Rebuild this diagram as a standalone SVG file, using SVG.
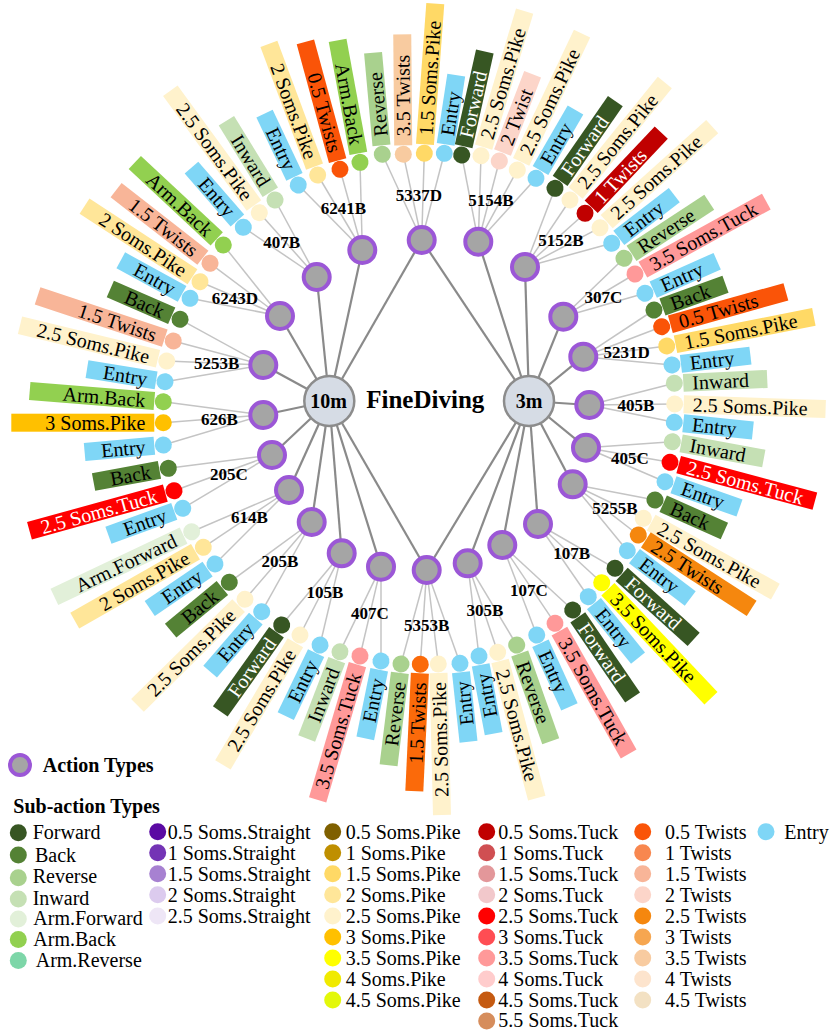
<svg xmlns="http://www.w3.org/2000/svg" width="830" height="1031" viewBox="0 0 830 1031">
<style>
.hl{stroke:#8a8a8a;stroke-width:2.2}
.ln{stroke:#c4c4c4;stroke-width:1.5}
.act circle{fill:#a5a5a5;stroke:#9b57d6;stroke-width:4}
.act text{font-family:"Liberation Serif",serif;font-weight:bold;font-size:17px;text-anchor:middle;fill:#000}
.hub circle{fill:#d6dce5;stroke:#8c8c8c;stroke-width:2.5}
.hub text{font-family:"Liberation Serif",serif;font-weight:bold;font-size:20px;text-anchor:middle}
.title{font-family:"Liberation Serif",serif;font-weight:bold;font-size:25px;text-anchor:middle}
.sub text{font-family:"Liberation Serif",serif;font-size:20px;fill:#000}
.L text{text-anchor:end}
.lg text{font-family:"Liberation Serif",serif;font-size:20px;fill:#000}
.lgh{font-family:"Liberation Serif",serif;font-size:20px;font-weight:bold}
.fw rect,.fw circle,circle.fw{fill:#375623}
.fw text,.w1 text,.t25 text{fill:#fff}
.bk rect,.bk circle,circle.bk{fill:#548235}
.rv rect,.rv circle,circle.rv{fill:#a9d18e}
.iw rect,.iw circle,circle.iw{fill:#c5e0b4}
.af rect,.af circle,circle.af{fill:#e2f0d9}
.ab rect,.ab circle,circle.ab{fill:#92d050}
circle.ar{fill:#7dd6a8}
.en rect,.en circle,circle.en{fill:#7fd6f6}
.p15 rect,.p15 circle,circle.p15{fill:#ffd966}
.p2 rect,.p2 circle,circle.p2{fill:#ffe699}
.p25 rect,.p25 circle,circle.p25{fill:#fff2cc}
.p3 rect,.p3 circle,circle.p3{fill:#ffc000}
.p35 rect,.p35 circle,circle.p35{fill:#ffff00}
.t25 rect,.t25 circle,circle.t25{fill:#ff0000}
.t35 rect,.t35 circle,circle.t35{fill:#ff9999}
.w05 rect,.w05 circle,circle.w05{fill:#fa5408}
.w1 rect,.w1 circle,circle.w1{fill:#c00000}
.w15 rect,.w15 circle,circle.w15{fill:#f8b598}
.w15o rect,.w15o circle{fill:#fb6a0a}
.w2 rect,.w2 circle,circle.w2{fill:#fcd5c9}
.w25 rect,.w25 circle,circle.w25{fill:#f5870e}
.w35 rect,.w35 circle,circle.w35{fill:#f8cba0}
circle.s05{fill:#5b0aa3}circle.s1{fill:#7434b5}circle.s15{fill:#a781d1}circle.s2{fill:#dccbee}circle.s25{fill:#eee6f6}
circle.pk05{fill:#7f6000}circle.pk1{fill:#bf8f00}circle.pk4{fill:#f0ea00}circle.pk45{fill:#e3f80a}
circle.tk05{fill:#c00000}circle.tk1{fill:#d04f52}circle.tk15{fill:#e3979a}circle.tk2{fill:#f2c8cb}circle.tk3{fill:#ff4d53}circle.tk4{fill:#ffcccc}circle.tk45{fill:#c55a11}circle.tk55{fill:#d68d5c}
circle.tw1{fill:#f8874f}circle.tw3{fill:#f6a650}circle.tw4{fill:#fde4cd}circle.tw45{fill:#f3e1c3}
</style>
<rect width="830" height="1031" fill="#fff"/>
<g id="connectors" fill="none">
<g class="hl">
<line x1="329.3" y1="401" x2="362.3" y2="250"/><line x1="329.3" y1="401" x2="316.7" y2="277"/><line x1="329.3" y1="401" x2="280" y2="316"/><line x1="329.3" y1="401" x2="263.3" y2="365"/><line x1="329.3" y1="401" x2="263.3" y2="415"/><line x1="329.3" y1="401" x2="272" y2="455"/><line x1="329.3" y1="401" x2="289" y2="490"/><line x1="329.3" y1="401" x2="311.7" y2="522"/><line x1="329.3" y1="401" x2="341.7" y2="553.3"/><line x1="329.3" y1="401" x2="381" y2="566.7"/><line x1="329.3" y1="401" x2="426.7" y2="570"/><line x1="329.3" y1="401" x2="421.7" y2="240"/>
<line x1="529" y1="401" x2="421.7" y2="240"/><line x1="529" y1="401" x2="478.3" y2="241.7"/><line x1="529" y1="401" x2="525" y2="267"/><line x1="529" y1="401" x2="563.3" y2="316.7"/><line x1="529" y1="401" x2="583.3" y2="356.7"/><line x1="529" y1="401" x2="589.3" y2="405"/><line x1="529" y1="401" x2="586" y2="447.7"/><line x1="529" y1="401" x2="572.7" y2="484.3"/><line x1="529" y1="401" x2="538" y2="524"/><line x1="529" y1="401" x2="502.3" y2="545"/><line x1="529" y1="401" x2="467.7" y2="563.3"/><line x1="529" y1="401" x2="426.7" y2="570"/>
</g>
<g class="ln">
<line x1="478.3" y1="241.7" x2="461.7" y2="155"/><line x1="478.3" y1="241.7" x2="481" y2="155.7"/><line x1="478.3" y1="241.7" x2="499.3" y2="161"/><line x1="478.3" y1="241.7" x2="517.3" y2="170"/><line x1="478.3" y1="241.7" x2="536" y2="178.3"/>
<line x1="525" y1="267" x2="555" y2="188.3"/><line x1="525" y1="267" x2="570" y2="200"/><line x1="525" y1="267" x2="585" y2="213.3"/><line x1="525" y1="267" x2="600" y2="227.7"/><line x1="525" y1="267" x2="611.7" y2="243.3"/>
<line x1="563.3" y1="316.7" x2="624" y2="258.3"/><line x1="563.3" y1="316.7" x2="635" y2="274"/><line x1="563.3" y1="316.7" x2="645" y2="293.3"/>
<line x1="583.3" y1="356.7" x2="654" y2="310"/><line x1="583.3" y1="356.7" x2="661.7" y2="326.7"/><line x1="583.3" y1="356.7" x2="666.7" y2="346"/><line x1="583.3" y1="356.7" x2="672" y2="365"/>
<line x1="589.3" y1="405" x2="674.3" y2="383.3"/><line x1="589.3" y1="405" x2="674.7" y2="404"/><line x1="589.3" y1="405" x2="674.3" y2="422.3"/>
<line x1="586" y1="447.7" x2="672.3" y2="441.7"/><line x1="586" y1="447.7" x2="670" y2="462.3"/><line x1="586" y1="447.7" x2="665" y2="481.7"/>
<line x1="572.7" y1="484.3" x2="655" y2="500"/><line x1="572.7" y1="484.3" x2="643.3" y2="518.3"/><line x1="572.7" y1="484.3" x2="638.3" y2="535"/><line x1="572.7" y1="484.3" x2="627.3" y2="550.7"/>
<line x1="538" y1="524" x2="615" y2="568.3"/><line x1="538" y1="524" x2="601.7" y2="582.7"/><line x1="538" y1="524" x2="588.3" y2="596.7"/>
<line x1="502.3" y1="545" x2="572.7" y2="610"/><line x1="502.3" y1="545" x2="555" y2="623.3"/><line x1="502.3" y1="545" x2="536.7" y2="635"/>
<line x1="467.7" y1="563.3" x2="516.7" y2="645"/><line x1="467.7" y1="563.3" x2="497.7" y2="652.3"/><line x1="467.7" y1="563.3" x2="479" y2="656"/>
<line x1="426.7" y1="570" x2="460" y2="663.3"/><line x1="426.7" y1="570" x2="438.3" y2="664"/><line x1="426.7" y1="570" x2="420.3" y2="664.3"/><line x1="426.7" y1="570" x2="401" y2="664"/>
<line x1="381" y1="566.7" x2="381" y2="661"/><line x1="381" y1="566.7" x2="360" y2="656"/><line x1="381" y1="566.7" x2="340" y2="651.7"/>
<line x1="341.7" y1="553.3" x2="320" y2="645"/><line x1="341.7" y1="553.3" x2="300" y2="635"/><line x1="341.7" y1="553.3" x2="281.7" y2="625"/>
<line x1="311.7" y1="522" x2="261.7" y2="611.7"/><line x1="311.7" y1="522" x2="245" y2="599.3"/><line x1="311.7" y1="522" x2="229.3" y2="582.3"/>
<line x1="289" y1="490" x2="215" y2="564"/><line x1="289" y1="490" x2="203.3" y2="547.3"/><line x1="289" y1="490" x2="191.7" y2="531.7"/>
<line x1="272" y1="455" x2="182.7" y2="508.3"/><line x1="272" y1="455" x2="174" y2="490.7"/><line x1="272" y1="455" x2="168.3" y2="468.3"/>
<line x1="263.3" y1="415" x2="163.3" y2="445"/><line x1="263.3" y1="415" x2="163.3" y2="422.7"/><line x1="263.3" y1="415" x2="163.3" y2="401.7"/>
<line x1="263.3" y1="365" x2="165" y2="381.7"/><line x1="263.3" y1="365" x2="166.7" y2="361"/><line x1="263.3" y1="365" x2="173.3" y2="341"/><line x1="263.3" y1="365" x2="180" y2="319.3"/>
<line x1="280" y1="316" x2="190" y2="298.3"/><line x1="280" y1="316" x2="200" y2="281.7"/><line x1="280" y1="316" x2="210" y2="263.3"/><line x1="280" y1="316" x2="223.3" y2="245"/>
<line x1="316.7" y1="277" x2="243.3" y2="227.3"/><line x1="316.7" y1="277" x2="259.3" y2="212.7"/><line x1="316.7" y1="277" x2="275" y2="200"/>
<line x1="362.3" y1="250" x2="298.3" y2="185"/><line x1="362.3" y1="250" x2="317.7" y2="175"/><line x1="362.3" y1="250" x2="340" y2="169.3"/><line x1="362.3" y1="250" x2="360" y2="162.3"/>
<line x1="421.7" y1="240" x2="382.3" y2="154.3"/><line x1="421.7" y1="240" x2="403.3" y2="154.3"/><line x1="421.7" y1="240" x2="424.3" y2="153.3"/><line x1="421.7" y1="240" x2="444.3" y2="153.3"/>
</g>
</g>
<g id="hub-10m" class="hub"><circle cx="329.3" cy="401" r="25"/><text x="328.7" y="408">10m</text></g>
<g id="hub-3m" class="hub"><circle cx="529" cy="401" r="25"/><text x="529" y="408">3m</text></g>
<text id="title" class="title" x="425.3" y="408">FineDiving</text>
<g id="a-5337D" class="act"><circle cx="421.7" cy="240" r="13"/><text x="419" y="201">5337D</text></g>
<g id="a-5154B" class="act"><circle cx="478.3" cy="241.7" r="13"/><text x="491" y="206">5154B</text></g>
<g id="a-5152B" class="act"><circle cx="525" cy="267" r="13"/><text x="561" y="246">5152B</text></g>
<g id="a-307C" class="act"><circle cx="563.3" cy="316.7" r="13"/><text x="603.3" y="302.7">307C</text></g>
<g id="a-5231D" class="act"><circle cx="583.3" cy="356.7" r="13"/><text x="626.7" y="358.3">5231D</text></g>
<g id="a-405B" class="act"><circle cx="589.3" cy="405" r="13"/><text x="636" y="411">405B</text></g>
<g id="a-405C" class="act"><circle cx="586" cy="447.7" r="13"/><text x="630" y="463.7">405C</text></g>
<g id="a-5255B" class="act"><circle cx="572.7" cy="484.3" r="13"/><text x="615" y="513.7">5255B</text></g>
<g id="a-107B" class="act"><circle cx="538" cy="524" r="13"/><text x="571.7" y="559.3">107B</text></g>
<g id="a-107C" class="act"><circle cx="502.3" cy="545" r="13"/><text x="529" y="596">107C</text></g>
<g id="a-305B" class="act"><circle cx="467.7" cy="563.3" r="13"/><text x="485" y="616">305B</text></g>
<g id="a-5353B" class="act"><circle cx="426.7" cy="570" r="13"/><text x="426.7" y="631">5353B</text></g>
<g id="a-407C" class="act"><circle cx="381" cy="566.7" r="13"/><text x="370" y="618.7">407C</text></g>
<g id="a-105B" class="act"><circle cx="341.7" cy="553.3" r="13"/><text x="325" y="597.7">105B</text></g>
<g id="a-205B" class="act"><circle cx="311.7" cy="522" r="13"/><text x="280" y="567">205B</text></g>
<g id="a-614B" class="act"><circle cx="289" cy="490" r="13"/><text x="249.3" y="522.7">614B</text></g>
<g id="a-205C" class="act"><circle cx="272" cy="455" r="13"/><text x="229" y="480.3">205C</text></g>
<g id="a-626B" class="act"><circle cx="263.3" cy="415" r="13"/><text x="219.3" y="425.3">626B</text></g>
<g id="a-5253B" class="act"><circle cx="263.3" cy="365" r="13"/><text x="216.7" y="369.3">5253B</text></g>
<g id="a-6243D" class="act"><circle cx="280" cy="316" r="13"/><text x="235" y="304.3">6243D</text></g>
<g id="a-407B" class="act"><circle cx="316.7" cy="277" r="13"/><text x="281.7" y="247.5">407B</text></g>
<g id="a-6241B" class="act"><circle cx="362.3" cy="250" r="13"/><text x="343.3" y="214.3">6241B</text></g>
<g id="s1" class="sub fw" transform="translate(461.7,155) rotate(-77.4)"><rect x="9" y="-9" width="97" height="18"/><circle r="8.5"/><text x="18" y="7">Forward</text></g>
<g id="s2" class="sub p25" transform="translate(481,155.7) rotate(-73.2)"><rect x="9" y="-9" width="142" height="18"/><circle r="8.5"/><text x="18" y="7">2.5 Soms.Pike</text></g>
<g id="s3" class="sub w2" transform="translate(499.3,161) rotate(-69)"><rect x="9" y="-9" width="84" height="18"/><circle r="8.5"/><text x="18" y="7">2 Twist</text></g>
<g id="s4" class="sub p25" transform="translate(517.3,170) rotate(-64.6)"><rect x="9" y="-9" width="142" height="18"/><circle r="8.5"/><text x="18" y="7">2.5 Soms.Pike</text></g>
<g id="s5" class="sub en" transform="translate(536,178.3) rotate(-60)"><rect x="9" y="-9" width="70" height="18"/><circle r="8.5"/><text x="18" y="7">Entry</text></g>
<g id="s6" class="sub fw" transform="translate(555,188.3) rotate(-55.3)"><rect x="9" y="-9" width="97" height="18"/><circle r="8.5"/><text x="18" y="7">Forward</text></g>
<g id="s7" class="sub p25" transform="translate(570,200) rotate(-51.1)"><rect x="9" y="-9" width="142" height="18"/><circle r="8.5"/><text x="18" y="7">2.5 Soms.Pike</text></g>
<g id="s8" class="sub w1" transform="translate(585,213.3) rotate(-46.6)"><rect x="9" y="-9" width="102" height="18"/><circle r="8.5"/><text x="18" y="7">1 Twists</text></g>
<g id="s9" class="sub p25" transform="translate(600,227.7) rotate(-42)"><rect x="9" y="-9" width="142" height="18"/><circle r="8.5"/><text x="18" y="7">2.5 Soms.Pike</text></g>
<g id="s10" class="sub en" transform="translate(611.7,243.3) rotate(-37.6)"><rect x="9" y="-9" width="70" height="18"/><circle r="8.5"/><text x="18" y="7">Entry</text></g>
<g id="s11" class="sub rv" transform="translate(624,258.3) rotate(-33.3)"><rect x="9" y="-9" width="93" height="18"/><circle r="8.5"/><text x="18" y="7">Reverse</text></g>
<g id="s12" class="sub t35" transform="translate(635,274) rotate(-28.9)"><rect x="9" y="-9" width="141" height="18"/><circle r="8.5"/><text x="18" y="7">3.5 Soms.Tuck</text></g>
<g id="s13" class="sub en" transform="translate(645,293.3) rotate(-24)"><rect x="9" y="-9" width="70" height="18"/><circle r="8.5"/><text x="18" y="7">Entry</text></g>
<g id="s14" class="sub bk" transform="translate(654,310) rotate(-19.8)"><rect x="9" y="-9" width="67" height="18"/><circle r="8.5"/><text x="18" y="7">Back</text></g>
<g id="s15" class="sub w05" transform="translate(661.7,326.7) rotate(-15.7)"><rect x="9" y="-9" width="120" height="18"/><circle r="8.5"/><text x="18" y="7">0.5 Twists</text></g>
<g id="s16" class="sub p15" transform="translate(666.7,346) rotate(-11.2)"><rect x="9" y="-9" width="141" height="18"/><circle r="8.5"/><text x="18" y="7">1.5 Soms.Pike</text></g>
<g id="s17" class="sub en" transform="translate(672,365) rotate(-6.8)"><rect x="9" y="-9" width="70" height="18"/><circle r="8.5"/><text x="18" y="7">Entry</text></g>
<g id="s18" class="sub iw" transform="translate(674.3,383.3) rotate(-2.7)"><rect x="9" y="-9" width="84" height="18"/><circle r="8.5"/><text x="18" y="7">Inward</text></g>
<g id="s19" class="sub p25" transform="translate(674.7,404) rotate(1.9)"><rect x="9" y="-9" width="142" height="18"/><circle r="8.5"/><text x="18" y="7">2.5 Soms.Pike</text></g>
<g id="s20" class="sub en" transform="translate(674.3,422.3) rotate(6)"><rect x="9" y="-9" width="70" height="18"/><circle r="8.5"/><text x="18" y="7">Entry</text></g>
<g id="s21" class="sub iw" transform="translate(672.3,441.7) rotate(10.4)"><rect x="9" y="-9" width="84" height="18"/><circle r="8.5"/><text x="18" y="7">Inward</text></g>
<g id="s22" class="sub t25" transform="translate(670,462.3) rotate(15)"><rect x="9" y="-9" width="141" height="18"/><circle r="8.5"/><text x="18" y="7">2.5 Soms.Tuck</text></g>
<g id="s23" class="sub en" transform="translate(665,481.7) rotate(19.5)"><rect x="9" y="-9" width="70" height="18"/><circle r="8.5"/><text x="18" y="7">Entry</text></g>
<g id="s24" class="sub bk" transform="translate(655,500) rotate(24.1)"><rect x="9" y="-9" width="67" height="18"/><circle r="8.5"/><text x="18" y="7">Back</text></g>
<g id="s25" class="sub p25" transform="translate(643.3,518.3) rotate(29)"><rect x="9" y="-9" width="142" height="18"/><circle r="8.5"/><text x="18" y="7">2.5 Soms.Pike</text></g>
<g id="s26" class="sub w25" transform="translate(638.3,535) rotate(32.9)"><rect x="9" y="-9" width="126" height="18"/><circle r="8.5"/><text x="18" y="7">2.5 Twists</text></g>
<g id="s27" class="sub en" transform="translate(627.3,550.7) rotate(37.2)"><rect x="9" y="-9" width="70" height="18"/><circle r="8.5"/><text x="18" y="7">Entry</text></g>
<g id="s28" class="sub fw" transform="translate(615,568.3) rotate(42.1)"><rect x="9" y="-9" width="97" height="18"/><circle r="8.5"/><text x="18" y="7">Forward</text></g>
<g id="s29" class="sub p35" transform="translate(601.7,582.7) rotate(46.6)"><rect x="9" y="-9" width="150" height="18"/><circle r="8.5"/><text x="18" y="7">3.5 Soms.Pike</text></g>
<g id="s30" class="sub en" transform="translate(588.3,596.7) rotate(51)"><rect x="9" y="-9" width="70" height="18"/><circle r="8.5"/><text x="18" y="7">Entry</text></g>
<g id="s31" class="sub fw" transform="translate(572.7,610) rotate(55.6)"><rect x="9" y="-9" width="97" height="18"/><circle r="8.5"/><text x="18" y="7">Forward</text></g>
<g id="s32" class="sub t35" transform="translate(555,623.3) rotate(60.6)"><rect x="9" y="-9" width="141" height="18"/><circle r="8.5"/><text x="18" y="7">3.5 Soms.Tuck</text></g>
<g id="s33" class="sub en" transform="translate(536.7,635) rotate(65.5)"><rect x="9" y="-9" width="70" height="18"/><circle r="8.5"/><text x="18" y="7">Entry</text></g>
<g id="s34" class="sub rv" transform="translate(516.7,645) rotate(70.5)"><rect x="9" y="-9" width="93" height="18"/><circle r="8.5"/><text x="18" y="7">Reverse</text></g>
<g id="s35" class="sub p25" transform="translate(497.7,652.3) rotate(75)"><rect x="9" y="-9" width="142" height="18"/><circle r="8.5"/><text x="18" y="7">2.5 Soms.Pike</text></g>
<g id="s36" class="sub L en" transform="translate(479,656) rotate(-100.7)"><rect x="-79" y="-9" width="70" height="18"/><circle r="8.5"/><text x="-18" y="7">Entry</text></g>
<g id="s37" class="sub L en" transform="translate(460,663.3) rotate(-96.2)"><rect x="-79" y="-9" width="70" height="18"/><circle r="8.5"/><text x="-18" y="7">Entry</text></g>
<g id="s38" class="sub L p25" transform="translate(438.3,664) rotate(-91.4)"><rect x="-151" y="-9" width="142" height="18"/><circle r="8.5"/><text x="-18" y="7">2.5 Soms.Pike</text></g>
<g id="s39" class="sub L w15o" transform="translate(420.3,664.3) rotate(-87.3)"><rect x="-127" y="-9" width="118" height="18"/><circle r="8.5"/><text x="-18" y="7">1.5 Twists</text></g>
<g id="s40" class="sub L rv" transform="translate(401,664) rotate(-83)"><rect x="-102" y="-9" width="93" height="18"/><circle r="8.5"/><text x="-18" y="7">Reverse</text></g>
<g id="s41" class="sub L en" transform="translate(381,661) rotate(-78.5)"><rect x="-79" y="-9" width="70" height="18"/><circle r="8.5"/><text x="-18" y="7">Entry</text></g>
<g id="s42" class="sub L t35" transform="translate(360,656) rotate(-73.6)"><rect x="-150" y="-9" width="141" height="18"/><circle r="8.5"/><text x="-18" y="7">3.5 Soms.Tuck</text></g>
<g id="s43" class="sub L iw" transform="translate(340,651.7) rotate(-69)"><rect x="-93" y="-9" width="84" height="18"/><circle r="8.5"/><text x="-18" y="7">Inward</text></g>
<g id="s44" class="sub L en" transform="translate(320,645) rotate(-64.3)"><rect x="-79" y="-9" width="70" height="18"/><circle r="8.5"/><text x="-18" y="7">Entry</text></g>
<g id="s45" class="sub L p25" transform="translate(300,635) rotate(-59.3)"><rect x="-151" y="-9" width="142" height="18"/><circle r="8.5"/><text x="-18" y="7">2.5 Soms.Pike</text></g>
<g id="s46" class="sub L fw" transform="translate(281.7,625) rotate(-54.6)"><rect x="-106" y="-9" width="97" height="18"/><circle r="8.5"/><text x="-18" y="7">Forward</text></g>
<g id="s47" class="sub L en" transform="translate(261.7,611.7) rotate(-49.25)"><rect x="-79" y="-9" width="70" height="18"/><circle r="8.5"/><text x="-18" y="7">Entry</text></g>
<g id="s48" class="sub L p25" transform="translate(245,599.3) rotate(-44.6)"><rect x="-151" y="-9" width="142" height="18"/><circle r="8.5"/><text x="-18" y="7">2.5 Soms.Pike</text></g>
<g id="s49" class="sub L bk" transform="translate(229.3,582.3) rotate(-39.5)"><rect x="-76" y="-9" width="67" height="18"/><circle r="8.5"/><text x="-18" y="7">Back</text></g>
<g id="s50" class="sub L en" transform="translate(215,564) rotate(-34.3)"><rect x="-79" y="-9" width="70" height="18"/><circle r="8.5"/><text x="-18" y="7">Entry</text></g>
<g id="s51" class="sub L p2" transform="translate(203.3,547.3) rotate(-29.7)"><rect x="-148" y="-9" width="139" height="18"/><circle r="8.5"/><text x="-18" y="7">2 Soms.Pike</text></g>
<g id="s52" class="sub L af" transform="translate(191.7,531.7) rotate(-25.4)"><rect x="-152" y="-9" width="143" height="18"/><circle r="8.5"/><text x="-18" y="7">Arm.Forward</text></g>
<g id="s53" class="sub L en" transform="translate(182.7,508.3) rotate(-19.9)"><rect x="-79" y="-9" width="70" height="18"/><circle r="8.5"/><text x="-18" y="7">Entry</text></g>
<g id="s54" class="sub L t25" transform="translate(174,490.7) rotate(-15.5)"><rect x="-150" y="-9" width="141" height="18"/><circle r="8.5"/><text x="-18" y="7">2.5 Soms.Tuck</text></g>
<g id="s55" class="sub L bk" transform="translate(168.3,468.3) rotate(-10.4)"><rect x="-76" y="-9" width="67" height="18"/><circle r="8.5"/><text x="-18" y="7">Back</text></g>
<g id="s56" class="sub L en" transform="translate(163.3,445) rotate(-5.1)"><rect x="-79" y="-9" width="70" height="18"/><circle r="8.5"/><text x="-18" y="7">Entry</text></g>
<g id="s57" class="sub L p3" transform="translate(163.3,422.7) rotate(0)"><rect x="-152" y="-9" width="143" height="18"/><circle r="8.5"/><text x="-18" y="7">3 Soms.Pike</text></g>
<g id="s58" class="sub L ab" transform="translate(163.3,401.7) rotate(4.6)"><rect x="-134" y="-9" width="125" height="18"/><circle r="8.5"/><text x="-18" y="7">Arm.Back</text></g>
<g id="s59" class="sub L en" transform="translate(165,381.7) rotate(9.1)"><rect x="-79" y="-9" width="70" height="18"/><circle r="8.5"/><text x="-18" y="7">Entry</text></g>
<g id="s60" class="sub L p25" transform="translate(166.7,361) rotate(13.7)"><rect x="-151" y="-9" width="142" height="18"/><circle r="8.5"/><text x="-18" y="7">2.5 Soms.Pike</text></g>
<g id="s61" class="sub L w15" transform="translate(173.3,341) rotate(18.4)"><rect x="-143" y="-9" width="134" height="18"/><circle r="8.5"/><text x="-18" y="7">1.5 Twists</text></g>
<g id="s62" class="sub L bk" transform="translate(180,319.3) rotate(23.5)"><rect x="-76" y="-9" width="67" height="18"/><circle r="8.5"/><text x="-18" y="7">Back</text></g>
<g id="s63" class="sub L en" transform="translate(190,298.3) rotate(28.8)"><rect x="-79" y="-9" width="70" height="18"/><circle r="8.5"/><text x="-18" y="7">Entry</text></g>
<g id="s64" class="sub L p2" transform="translate(200,281.7) rotate(33.2)"><rect x="-138" y="-9" width="129" height="18"/><circle r="8.5"/><text x="-18" y="7">2 Soms.Pike</text></g>
<g id="s65" class="sub L w15" transform="translate(210,263.3) rotate(37.9)"><rect x="-119" y="-9" width="110" height="18"/><circle r="8.5"/><text x="-18" y="7">1.5 Twists</text></g>
<g id="s66" class="sub L ab" transform="translate(223.3,245) rotate(43)"><rect x="-121" y="-9" width="112" height="18"/><circle r="8.5"/><text x="-18" y="7">Arm.Back</text></g>
<g id="s67" class="sub L en" transform="translate(243.3,227.3) rotate(49)"><rect x="-79" y="-9" width="70" height="18"/><circle r="8.5"/><text x="-18" y="7">Entry</text></g>
<g id="s68" class="sub L p25" transform="translate(259.3,212.7) rotate(53.9)"><rect x="-151" y="-9" width="142" height="18"/><circle r="8.5"/><text x="-18" y="7">2.5 Soms.Pike</text></g>
<g id="s69" class="sub L iw" transform="translate(275,200) rotate(58.5)"><rect x="-93" y="-9" width="84" height="18"/><circle r="8.5"/><text x="-18" y="7">Inward</text></g>
<g id="s70" class="sub L en" transform="translate(298.3,185) rotate(64.7)"><rect x="-79" y="-9" width="70" height="18"/><circle r="8.5"/><text x="-18" y="7">Entry</text></g>
<g id="s71" class="sub L p2" transform="translate(317.7,175) rotate(69.6)"><rect x="-140" y="-9" width="131" height="18"/><circle r="8.5"/><text x="-18" y="7">2 Soms.Pike</text></g>
<g id="s72" class="sub L w05" transform="translate(340,169.3) rotate(74.8)"><rect x="-132" y="-9" width="123" height="18"/><circle r="8.5"/><text x="-18" y="7">0.5 Twists</text></g>
<g id="s73" class="sub L ab" transform="translate(360,162.3) rotate(79.6)"><rect x="-124" y="-9" width="115" height="18"/><circle r="8.5"/><text x="-18" y="7">Arm.Back</text></g>
<g id="s74" class="sub rv" transform="translate(382.3,154.3) rotate(-95.2)"><rect x="9" y="-9" width="93" height="18"/><circle r="8.5"/><text x="18" y="7">Reverse</text></g>
<g id="s75" class="sub w35" transform="translate(403.3,154.3) rotate(-90.5)"><rect x="9" y="-9" width="111" height="18"/><circle r="8.5"/><text x="18" y="7">3.5 Twists</text></g>
<g id="s76" class="sub p15" transform="translate(424.3,153.3) rotate(-85.8)"><rect x="9" y="-9" width="141" height="18"/><circle r="8.5"/><text x="18" y="7">1.5 Soms.Pike</text></g>
<g id="s77" class="sub en" transform="translate(444.3,153.3) rotate(-81.3)"><rect x="9" y="-9" width="70" height="18"/><circle r="8.5"/><text x="18" y="7">Entry</text></g>
<g id="legend" class="lg">
<circle cx="20" cy="765" r="10" fill="#a5a5a5" stroke="#9b57d6" stroke-width="4"/>
<text class="lgh" x="42.7" y="771.7">Action Types</text>
<text class="lgh" x="13.3" y="812.7">Sub-action Types</text>
<circle class="fw" cx="18.3" cy="832.7" r="8.5"/><text x="32.7" y="839.3">Forward</text>
<circle class="bk" cx="18.3" cy="855" r="8.5"/><text x="35" y="861.7">Back</text>
<circle class="rv" cx="18.3" cy="877.7" r="8.5"/><text x="32.7" y="883.3">Reverse</text>
<circle class="iw" cx="18.3" cy="899" r="8.5"/><text x="32.7" y="905">Inward</text>
<circle class="af" cx="18.3" cy="919" r="8.5"/><text x="33.3" y="925.3">Arm.Forward</text>
<circle class="ab" cx="18.3" cy="939.5" r="8.5"/><text x="33.3" y="945.5">Arm.Back</text>
<circle class="ar" cx="18.3" cy="960.5" r="8.5"/><text x="35.7" y="966.7">Arm.Reverse</text>
<circle class="s05" cx="157.7" cy="831.7" r="8.5"/><text x="167.7" y="838.7">0.5 Soms.Straight</text>
<circle class="s1" cx="157.7" cy="852.7" r="8.5"/><text x="167.7" y="859.7">1 Soms.Straight</text>
<circle class="s15" cx="157.7" cy="873.8" r="8.5"/><text x="167.7" y="880.8">1.5 Soms.Straight</text>
<circle class="s2" cx="157.7" cy="894.8" r="8.5"/><text x="167.7" y="901.8">2 Soms.Straight</text>
<circle class="s25" cx="157.7" cy="915.9" r="8.5"/><text x="167.7" y="922.9">2.5 Soms.Straight</text>
<circle class="pk05" cx="332.7" cy="831.7" r="8.5"/><text x="345.7" y="838.7">0.5 Soms.Pike</text>
<circle class="pk1" cx="332.7" cy="852.7" r="8.5"/><text x="345.7" y="859.7">1 Soms.Pike</text>
<circle class="p15" cx="332.7" cy="873.8" r="8.5"/><text x="345.7" y="880.8">1.5 Soms.Pike</text>
<circle class="p2" cx="332.7" cy="894.8" r="8.5"/><text x="345.7" y="901.8">2 Soms.Pike</text>
<circle class="p25" cx="332.7" cy="915.9" r="8.5"/><text x="345.7" y="922.9">2.5 Soms.Pike</text>
<circle class="p3" cx="332.7" cy="936.9" r="8.5"/><text x="345.7" y="943.9">3 Soms.Pike</text>
<circle class="p35" cx="332.7" cy="958" r="8.5"/><text x="345.7" y="965">3.5 Soms.Pike</text>
<circle class="pk4" cx="332.7" cy="979" r="8.5"/><text x="345.7" y="986">4 Soms.Pike</text>
<circle class="pk45" cx="332.7" cy="1000" r="8.5"/><text x="345.7" y="1007">4.5 Soms.Pike</text>
<circle class="tk05" cx="486.7" cy="831.7" r="8.5"/><text x="498.3" y="838.7">0.5 Soms.Tuck</text>
<circle class="tk1" cx="486.7" cy="852.7" r="8.5"/><text x="498.3" y="859.7">1 Soms.Tuck</text>
<circle class="tk15" cx="486.7" cy="873.8" r="8.5"/><text x="498.3" y="880.8">1.5 Soms.Tuck</text>
<circle class="tk2" cx="486.7" cy="894.8" r="8.5"/><text x="498.3" y="901.8">2 Soms.Tuck</text>
<circle class="t25" cx="486.7" cy="915.9" r="8.5"/><text x="498.3" y="922.9">2.5 Soms.Tuck</text>
<circle class="tk3" cx="486.7" cy="936.9" r="8.5"/><text x="498.3" y="943.9">3 Soms.Tuck</text>
<circle class="t35" cx="486.7" cy="958" r="8.5"/><text x="498.3" y="965">3.5 Soms.Tuck</text>
<circle class="tk4" cx="486.7" cy="979" r="8.5"/><text x="498.3" y="986">4 Soms.Tuck</text>
<circle class="tk45" cx="486.7" cy="1000" r="8.5"/><text x="498.3" y="1007">4.5 Soms.Tuck</text>
<circle class="tk55" cx="486.7" cy="1021" r="8.5"/><text x="498.3" y="1027">5.5 Soms.Tuck</text>
<circle class="w05" cx="642.7" cy="831.7" r="8.5"/><text x="665" y="838.7">0.5 Twists</text>
<circle class="tw1" cx="642.7" cy="852.7" r="8.5"/><text x="665" y="859.7">1 Twists</text>
<circle class="w15" cx="642.7" cy="873.8" r="8.5"/><text x="665" y="880.8">1.5 Twists</text>
<circle class="w2" cx="642.7" cy="894.8" r="8.5"/><text x="665" y="901.8">2 Twists</text>
<circle class="w25" cx="642.7" cy="915.9" r="8.5"/><text x="665" y="922.9">2.5 Twists</text>
<circle class="tw3" cx="642.7" cy="936.9" r="8.5"/><text x="665" y="943.9">3 Twists</text>
<circle class="w35" cx="642.7" cy="958" r="8.5"/><text x="665" y="965">3.5 Twists</text>
<circle class="tw4" cx="642.7" cy="979" r="8.5"/><text x="665" y="986">4 Twists</text>
<circle class="tw45" cx="642.7" cy="1000" r="8.5"/><text x="665" y="1007">4.5 Twists</text>
<circle class="en" cx="766" cy="831.7" r="8.5"/><text x="784.3" y="838.7">Entry</text>
</g>
</svg>
